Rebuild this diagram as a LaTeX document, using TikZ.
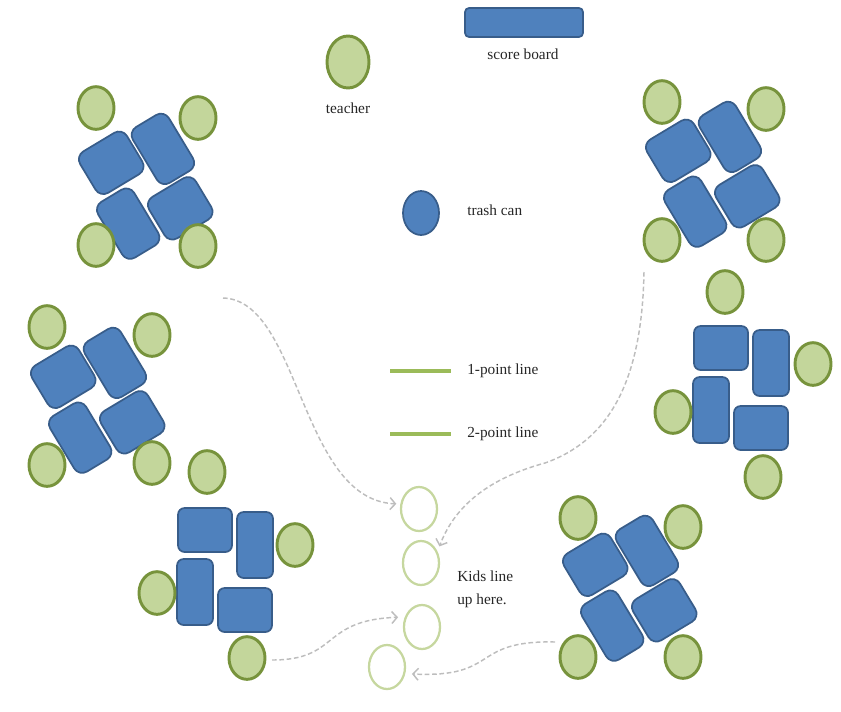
\documentclass[tikz,border=0pt]{standalone}
\usepackage{fontspec}
\setmainfont{Liberation Serif}
\usetikzlibrary{arrows.meta,shapes.geometric}
\definecolor{seatfill}{HTML}{C3D69B}
\definecolor{seatline}{HTML}{77933C}
\definecolor{deskfill}{HTML}{4F81BD}
\definecolor{deskline}{HTML}{385D8A}
\definecolor{lineupcol}{HTML}{C6D79F}
\definecolor{legendcol}{HTML}{9BBB59}
\definecolor{pathcol}{HTML}{BDBDBD}
\definecolor{txt}{HTML}{262626}
\tikzset{
  seat/.style={draw=seatline,fill=seatfill,line width=2.2pt},
  desk/.style={draw=deskline,fill=deskfill,line width=1.3pt,rounded corners=5pt},
  tdesk/.style={desk,rounded corners=7pt},
  lineup/.style={draw=lineupcol,line width=1.7pt,ellipse,minimum width=27pt,minimum height=33pt,inner sep=0pt},
  lbl/.style={text=txt,font=\fontsize{11.5}{17}\selectfont,inner sep=0pt},
  walk/.style={draw=pathcol,line width=1.1pt,dash pattern=on 3.5pt off 2pt,-{Straight Barb[length=4pt,width=9pt]}},
  legendline/.style={draw=legendcol,line width=2.4pt}
}
% unrotated desk block
\newcommand{\deskgroup}[2]{%
  \begin{scope}[shift={(#1,#2)}]
    \draw[desk] (-47,-62) rectangle (7,-18);
    \draw[desk] (12,-58) rectangle (48,8);
    \draw[desk] (-48,-11) rectangle (-12,55);
    \draw[desk] (-7,18) rectangle (47,62);
  \end{scope}}
% tilted desk block
\newcommand{\tiltgroup}[2]{%
  \begin{scope}[shift={(#1,#2)},rotate=31,scale=1.05]
    \draw[tdesk] (-43,-59) rectangle (9,-13);
    \draw[tdesk] (12,-53) rectangle (52,9);
    \draw[tdesk] (-53,-9) rectangle (-13,53);
    \draw[tdesk] (-9,12) rectangle (43,58);
  \end{scope}}
\newcommand{\seatat}[2]{\draw[seat] (#1,#2) ellipse [x radius=13.5pt, y radius=16pt];}
\begin{document}
\begin{tikzpicture}[x=0.75pt,y=-0.75pt]
\useasboundingbox (0,0) rectangle (841,711);
% top-left group
\tiltgroup{146}{186}
\seatat{96}{108}\seatat{198}{118}\seatat{96}{245}\seatat{198}{246}
% top-right group
\tiltgroup{713}{174}
\seatat{662}{102}\seatat{766}{109}\seatat{662}{240}\seatat{766}{240}
% left-middle group
\tiltgroup{98}{400}
\seatat{47}{327}\seatat{152}{335}\seatat{47}{465}\seatat{152}{463}
% bottom-right group
\tiltgroup{630}{588}
\seatat{578}{518}\seatat{683}{527}\seatat{578}{657}\seatat{683}{657}
% bottom-left group
\deskgroup{225}{570}
\seatat{207}{472}\seatat{295}{545}\seatat{157}{593}\seatat{247}{658}
% right-middle group
\deskgroup{741}{388}
\seatat{725}{292}\seatat{813}{364}\seatat{673}{412}\seatat{763}{477}
% teacher, score board, trash can
\draw[seat] (348,62) ellipse [x radius=15.75pt, y radius=19.5pt];
\node[lbl] (teacher) at (348,108) {teacher};
\draw[desk,rounded corners=3pt] (465,8) rectangle (583,37);
\node[lbl] (board) at (523,54) {score board};
\draw[draw=deskline,fill=deskfill,line width=1.3pt] (421,213) ellipse [x radius=13.5pt, y radius=16.5pt];
\node[lbl,anchor=west] (trash) at (467,210) {trash can};
% legend
\draw[legendline] (390,371) -- (451,371);
\node[lbl,anchor=west] (l1) at (467,371) {1-point line};
\draw[legendline] (390,434) -- (451,434);
\node[lbl,anchor=west] (l2) at (467,434) {2-point line};
% line-up spots
\node[lineup] (q1) at (419,509) {};
\node[lineup] (q2) at (421,563) {};
\node[lineup] (q3) at (422,627) {};
\node[lineup] (q4) at (387,667) {};
\node[lbl,anchor=west,align=left] (kids) at (457,589) {Kids line\\up here.};
% walking paths
\coordinate (s1) at (223,298);
\coordinate (s2) at (644,272);
\coordinate (s3) at (272,660);
\coordinate (s4) at (555,642);
\draw[walk,shorten >=3pt] (s1) .. controls (300,300) and (300,500) .. (q1.165);
\draw[walk,shorten >=4pt] (s2) .. controls (642,380) and (610,440) .. (545,463) .. controls (490,478) and (455,505) .. (q2.35);
\draw[walk,shorten >=5pt] (s3) .. controls (340,660) and (320,620) .. (q3.150);
\draw[walk,shorten >=5pt] (s4) .. controls (470,640) and (500,678) .. (q4.-20);
\end{tikzpicture}
\end{document}
